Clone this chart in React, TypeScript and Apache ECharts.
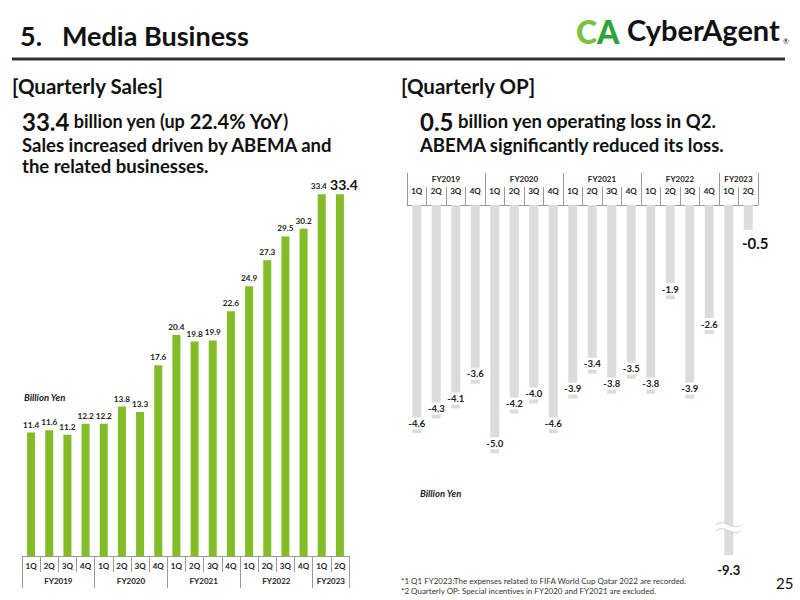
import React, { useEffect, useRef } from "react";
import * as echarts from "echarts";

const quarters = ["1Q", "2Q", "3Q", "4Q", "1Q", "2Q", "3Q", "4Q", "1Q", "2Q", "3Q", "4Q", "1Q", "2Q", "3Q", "4Q", "1Q", "2Q"];
const fiscalYears = ["FY2019", "FY2020", "FY2021", "FY2022", "FY2023"];
const quartersPerYear = [4, 4, 4, 4, 2];
const sales = [11.4, 11.6, 11.2, 12.2, 12.2, 13.8, 13.3, 17.6, 20.4, 19.8, 19.9, 22.6, 24.9, 27.3, 29.5, 30.2, 33.4, 33.4];
const op = [-4.6, -4.3, -4.1, -3.6, -5.0, -4.2, -4.0, -4.6, -3.9, -3.4, -3.8, -3.5, -3.8, -1.9, -3.9, -2.6, -9.3, -0.5];

const FONT = "Lato";

// FY axis: points at quarter boundaries (boundaryGap false); label at the middle of each year
const fyPoints: string[] = [];
const fyBoundaries: number[] = [0];
(() => {
  const total = quartersPerYear.reduce((a, b) => a + b, 0);
  for (let i = 0; i <= total; i++) fyPoints.push("");
  let s = 0;
  quartersPerYear.forEach((c, i) => {
    fyPoints[s + c / 2] = fiscalYears[i];
    s += c;
    fyBoundaries.push(s);
  });
})();

export default function App() {
  const ref = useRef<HTMLDivElement>(null);
  useEffect(() => {
    if (!ref.current) return;
    const chart = echarts.init(ref.current, null, { renderer: "svg" });
    const axisGray = "#9a9a9a";
    const lastIdx = sales.length - 1;
    const breakIdx = op.indexOf(Math.min(...op));

    const quarterAxis = (gridIndex: number, position: "top" | "bottom", margin: number, len: number) => ({
      type: "category",
      gridIndex,
      position,
      data: quarters,
      axisLine: { show: true, lineStyle: { color: axisGray, width: 1 } },
      axisTick: { show: true, length: len, lineStyle: { color: axisGray } },
      axisLabel: { fontSize: 8, color: "#222", margin, fontFamily: FONT, fontWeight: "bold" },
      splitLine: { show: false },
    });
    const fyAxis = (gridIndex: number, position: "top" | "bottom", margin: number, len: number) => ({
      type: "category",
      gridIndex,
      position,
      boundaryGap: false,
      data: fyPoints,
      axisLine: { show: false },
      axisTick: {
        show: true,
        length: len,
        interval: (i: number) => fyBoundaries.indexOf(i) >= 0,
        lineStyle: { color: axisGray },
      },
      axisLabel: {
        fontSize: 8,
        color: "#222",
        margin,
        fontFamily: FONT,
        fontWeight: "bold",
        interval: (i: number) => fyPoints[i] !== "",
      },
      splitLine: { show: false },
    });

    const H = { fontFamily: FONT, fill: "#111", fontWeight: "bold" };

    const option: any = {
      animation: false,
      backgroundColor: "#fff",
      textStyle: { fontFamily: FONT },
      grid: [
        { left: 22, right: 451, top: 166, bottom: 44 },
        { left: 407, right: 42, top: 205, bottom: 45 },
      ],
      xAxis: [
        quarterAxis(0, "bottom", 6, 16),
        fyAxis(0, "bottom", 21, 32),
        quarterAxis(1, "top", 10, 18),
        fyAxis(1, "top", 22, 32),
      ],
      yAxis: [
        { type: "value", gridIndex: 0, min: 0, max: 36, show: false, splitLine: { show: false } },
        { type: "value", gridIndex: 1, min: -7.05, max: 0, show: false, splitLine: { show: false } },
      ],
      series: [
        {
          type: "bar",
          xAxisIndex: 0,
          yAxisIndex: 0,
          barWidth: 8,
          data: sales.map((v, i) =>
            i === lastIdx
              ? { value: v, label: { fontSize: 14, fontWeight: "bold", color: "#111", distance: 3, offset: [4, 0] } }
              : i === lastIdx - 1
              ? { value: v, label: { offset: [-3, 0] } }
              : v
          ),
          itemStyle: { color: "#82bc26" },
          label: {
            show: true,
            position: "top",
            distance: 4,
            fontSize: 8.2,
            color: "#222",
            fontFamily: FONT,
            fontWeight: "bold",
            formatter: (p: any) => p.value.toFixed(1),
          },
        },
        {
          type: "bar",
          xAxisIndex: 2,
          yAxisIndex: 1,
          barWidth: 9,
          clip: true,
          data: op.map((v, i) => {
            if (i === breakIdx)
              return { value: v, label: { position: "bottom", distance: 7, fontSize: 13, fontWeight: "bold", color: "#111", backgroundColor: "transparent" } };
            if (i === lastIdx)
              return { value: v, label: { position: "bottom", distance: 5, offset: [7, 0], fontSize: 15, fontWeight: "bold", color: "#111", backgroundColor: "transparent" } };
            return v;
          }),
          itemStyle: { color: "#dcdcdc" },
          label: {
            show: true,
            position: "insideBottom",
            distance: 4,
            fontSize: 9.5,
            color: "#222",
            fontFamily: FONT,
            fontWeight: "bold",
            backgroundColor: "#fff",
            padding: [1, 0],
            formatter: (p: any) => p.value.toFixed(1),
          },
        },
      ],
      graphic: [
        { type: "text", left: 20, top: 22, style: { text: "5.", fontSize: 27, ...H } },
        { type: "text", left: 62, top: 22, style: { text: "Media Business", fontSize: 27, ...H } },
        { type: "line", shape: { x1: 12, y1: 59, x2: 785, y2: 59 }, style: { stroke: "#333", lineWidth: 3 } },
        // logo
        {
          type: "text", left: 576, top: 15,
          style: {
            text: "{c|C}{a|A}",
            rich: {
              c: { fontSize: 32, fontWeight: 900, fontFamily: FONT, fill: "#7cc242" },
              a: { fontSize: 32, fontWeight: 900, fontFamily: FONT, fill: "#2ea43a" },
            },
          },
        },
        { type: "text", left: 627, top: 15, style: { text: "CyberAgent", fontSize: 29, ...H } },
        { type: "text", left: 783, top: 37, style: { text: "®", fontSize: 7, fontFamily: FONT, fill: "#111" } },
        // left texts
        { type: "text", left: 12, top: 75, style: { text: "[Quarterly Sales]", fontSize: 20.5, fontFamily: FONT, fill: "#111", fontWeight: "bold" } },
        {
          type: "text", left: 22, top: 109,
          style: {
            text: "{a|33.4}{b| billion yen (up }{c|22.4% YoY}{b|)}",
            fontFamily: FONT, fill: "#111",
            rich: {
              a: { fontSize: 24, ...H },
              b: { fontSize: 18, ...H },
              c: { fontSize: 20, ...H },
            },
          },
        },
        { type: "text", left: 22, top: 135, style: { text: "Sales increased driven by ABEMA and", fontSize: 18.5, ...H } },
        { type: "text", left: 22, top: 156, style: { text: "the related businesses.", fontSize: 18.5, ...H } },
        { type: "text", left: 24, top: 392, style: { text: "Billion Yen", fontSize: 9.5, fontStyle: "italic", fontWeight: "bold", fontFamily: FONT, fill: "#222" } },
        // right texts
        { type: "text", left: 401, top: 75, style: { text: "[Quarterly OP]", fontSize: 20.5, fontFamily: FONT, fill: "#111", fontWeight: "bold" } },
        {
          type: "text", left: 420, top: 109,
          style: {
            text: "{a|0.5}{b| billion yen operating loss in Q2.}",
            fontFamily: FONT, fill: "#111",
            rich: {
              a: { fontSize: 24, ...H },
              b: { fontSize: 18.5, ...H },
            },
          },
        },
        { type: "text", left: 420, top: 135, style: { text: "ABEMA significantly reduced its loss.", fontSize: 18.5, ...H } },
        { type: "text", left: 420, top: 488, style: { text: "Billion Yen", fontSize: 9.5, fontStyle: "italic", fontWeight: "bold", fontFamily: FONT, fill: "#222" } },
        // footnotes
        { type: "text", left: 401, top: 577, style: { text: "*1 Q1 FY2023:The expenses related to FIFA World Cup Qatar 2022 are recorded.", fontSize: 8, fontFamily: FONT, fill: "#333" } },
        { type: "text", left: 401, top: 587, style: { text: "*2 Quarterly OP: Special incentives in FY2020 and FY2021 are excluded.", fontSize: 8, fontFamily: FONT, fill: "#333" } },
        { type: "text", left: 776, top: 575, style: { text: "25", fontSize: 15, fontFamily: FONT, fill: "#111" } },
      ],
    };
    chart.setOption(option);

    // break mark on the clipped bar
    const p = chart.convertToPixel({ gridIndex: 1 } as any, [breakIdx, -6.5]) as number[];
    if (p && isFinite(p[0])) {
      const x0 = p[0] - 13;
      const x1 = p[0] + 13;
      const y = p[1];
      const wave = (dy: number, stroke: string, w: number) => ({
        type: "bezierCurve",
        shape: { x1: x0, y1: y + dy, cpx1: p[0] - 4, cpy1: y + dy - 7, cpx2: p[0] + 4, cpy2: y + dy + 7, x2: x1, y2: y + dy },
        style: { stroke, lineWidth: w, fill: null },
        z: 100,
      });
      chart.setOption({
        graphic: [
          ...option.graphic,
          wave(0, "#fff", 5),
          wave(-3, "#cfcfcf", 1),
          wave(3, "#cfcfcf", 1),
        ],
      });
    }
    return () => chart.dispose();
  }, []);
  return <div ref={ref} style={{ position: "fixed", left: 0, top: 0, width: 800, height: 600 }} />;
}
